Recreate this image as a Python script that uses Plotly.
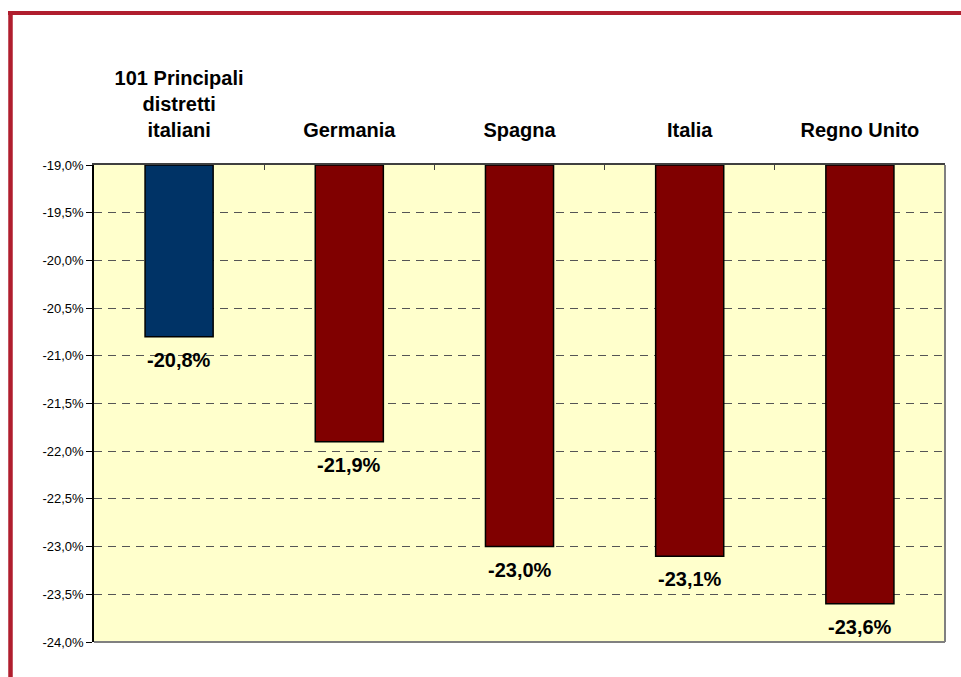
import plotly.graph_objects as go

categories = ["101 Principali<br>distretti<br>italiani", "Germania", "Spagna", "Italia", "Regno Unito"]
values = [-20.8, -21.9, -23.0, -23.1, -23.6]
bar_colors = ["#003366", "#800000", "#800000", "#800000", "#800000"]
y_top = -19.0
y_bottom = -24.0
tick_vals = [-19.0, -19.5, -20.0, -20.5, -21.0, -21.5, -22.0, -22.5, -23.0, -23.5, -24.0]
tick_text = ["-19,0%", "-19,5%", "-20,0%", "-20,5%", "-21,0%", "-21,5%", "-22,0%", "-22,5%", "-23,0%", "-23,5%", "-24,0%"]

W, H = 961, 677
ML, MR, MT, MB = 94, 16, 165, 35
pw = W - ML - MR
ph = H - MT - MB

fig = go.Figure()
fig.add_trace(go.Bar(
    x=categories,
    y=[v - y_top for v in values],
    base=y_top,
    width=0.4,
    marker=dict(color=bar_colors, line=dict(color="black", width=1.5)),
    hoverinfo="skip",
))

for c, v in zip(categories, values):
    fig.add_annotation(
        x=c, y=v, xref="x", yref="y",
        text=f"{v:.1f}%".replace(".", ","),
        showarrow=False, yanchor="top", yshift=-10,
        font=dict(family="Arial", size=20, color="black", weight="bold"),
    )

def px_x(p):
    return (p - ML) / pw

def px_y(p):
    return (H - MB - p) / ph

shapes = [
    dict(type="line", xref="paper", yref="paper", x0=px_x(8), x1=px_x(961), y0=px_y(13), y1=px_y(13),
         line=dict(color="#B01E2E", width=4)),
    dict(type="line", xref="paper", yref="paper", x0=px_x(10.5), x1=px_x(10.5), y0=px_y(11), y1=px_y(677),
         line=dict(color="#B01E2E", width=4.5)),
    dict(type="line", xref="paper", yref="paper", x0=1, x1=1, y0=0, y1=1,
         line=dict(color="#808080", width=2)),
    dict(type="line", xref="paper", yref="paper", x0=0, x1=1, y0=0, y1=0,
         line=dict(color="#808080", width=2)),
]

fig.update_layout(
    width=W, height=H,
    margin=dict(l=ML, r=MR, t=MT, b=MB, autoexpand=False),
    paper_bgcolor="white",
    plot_bgcolor="#FFFFCC",
    showlegend=False,
    bargap=0.6,
    shapes=shapes,
    font=dict(family="Arial", color="black"),
)
fig.update_xaxes(
    side="top",
    type="category",
    automargin=False,
    tickson="boundaries",
    ticks="inside", ticklen=5, tickcolor="#404040",
    showline=True, linecolor="#404040", linewidth=1.5,
    showgrid=False,
    tickfont=dict(family="Arial", size=20, color="black", weight="bold"),
    ticklabelstandoff=18,
)
fig.update_yaxes(
    range=[y_bottom, y_top],
    automargin=False,
    tickvals=tick_vals, ticktext=tick_text,
    ticks="outside", ticklen=6, tickcolor="black",
    showline=True, linecolor="black", linewidth=1.5,
    showgrid=True, gridcolor="#555555", gridwidth=1, griddash="8px,6px",
    zeroline=False,
    tickfont=dict(family="Arial", size=13, color="black"),
)

fig.write_html(
    "out.html",
    config={"displayModeBar": False},
    post_script="document.body.style.margin='0';document.body.style.overflow='hidden';",
)
